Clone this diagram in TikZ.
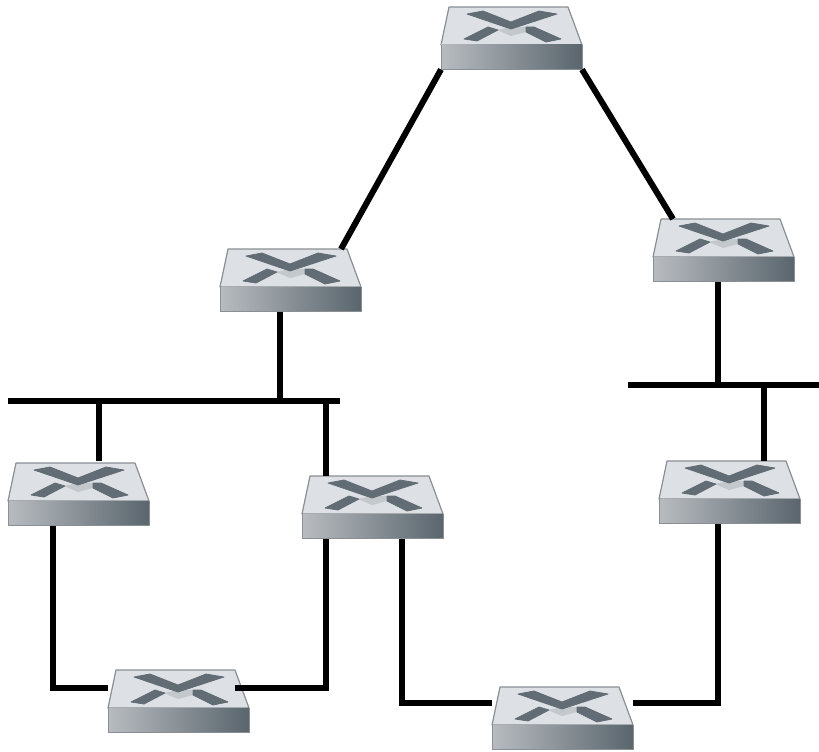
\documentclass[tikz,border=0pt]{standalone}
\definecolor{topface}{HTML}{DDE1E6}
\definecolor{xmark}{HTML}{626C74}
\definecolor{xlight}{HTML}{C3C8CD}
\definecolor{edgec}{HTML}{8A8F94}
\definecolor{frontl}{HTML}{B8BCC0}
\definecolor{frontm}{HTML}{8F979D}
\definecolor{frontr}{HTML}{5A656D}
\tikzset{
  x=1pt,y=-1pt,
  switchnode/.style={minimum width=141pt,minimum height=62.5pt,inner sep=0pt,outer sep=0pt,anchor=north west},
  topshape/.style={fill=topface,draw=edgec,line width=1.2pt,line join=round},
  frontshape/.style={left color=frontl,middle color=frontm,right color=frontr,draw=none},
  markshape/.style={fill=xmark,draw=xmark,line width=.8pt,line join=round},
  marklight/.style={fill=xlight,draw=none},
  wire/.style={line width=6pt,line cap=butt,line join=miter,black},
}
\newcommand{\switchat}[3]{%
  \node[switchnode] (#1) at (#2,#3) {};
  \begin{scope}[shift={(#2,#3)}]
    \path[topshape] (8,0) -- (127,0) -- (141,38) -- (0,38) -- cycle;
    \path[frontshape] (0,38) rectangle (141,62.5);
    \draw[edgec,line width=.8pt] (0,38) -- (0,62.5) -- (141,62.5) -- (141,38);
    \path[marklight] (56,23) -- (70,20) -- (85,20) -- (85,25) -- (70,29) -- cycle;
    \path[markshape] (26,7) -- (42,4) -- (70,15) -- (98,4) -- (116,7) -- (70,22) -- cycle;
    \path[markshape] (23,32) -- (36,34) -- (57,23) -- (47,20) -- cycle;
    \path[markshape] (85,20) -- (93,20) -- (120,32) -- (105,35) -- (85,25) -- cycle;
  \end{scope}}
\begin{document}
\begin{tikzpicture}
\useasboundingbox (0,0) rectangle (819,752);
\switchat{sTop}{441}{7}
\switchat{sLeft}{220}{249}
\switchat{sRight}{653}{219}
\switchat{sA}{8}{463}
\switchat{sB}{302}{476}
\switchat{sC}{659}{461}
\switchat{sD}{108}{670}
\switchat{sE}{492}{687}
\coordinate (busLa) at (8,400.5);
\coordinate (busLb) at (340,400.5);
\coordinate (busRa) at (628,385);
\coordinate (busRb) at (819,385);
\coordinate (cornerA) at (53,688);
\coordinate (cornerB) at (326,688);
\coordinate (cornerC) at (402,703);
\coordinate (cornerD) at (718,703);
\draw[wire] (sTop.south west) -- ([xshift=-20pt]sLeft.north east);
\draw[wire] (sTop.south east) -- ([xshift=20pt]sRight.north west);
\draw[wire] ([xshift=60pt]sLeft.south west) -- ([xshift=60pt]sLeft.south west |- busLa);
\draw[wire] (busLa) -- (busLb);
\draw[wire] (99,400.5) -- ([xshift=91pt,yshift=2pt]sA.north west);
\draw[wire] (326,400.5) -- ([xshift=24pt]sB.north west);
\draw[wire] ([xshift=65pt]sRight.south west) -- (718,385);
\draw[wire] (busRa) -- (busRb);
\draw[wire] (764,385) -- ([xshift=105pt]sC.north west);
\draw[wire] ([xshift=45pt]sA.south west) -- (cornerA) -- (cornerA -| sD.west);
\draw[wire] ([xshift=24pt]sB.south west) -- (cornerB) -- ([xshift=-14pt]cornerB -| sD.east);
\draw[wire] ([xshift=100pt]sB.south west) -- (cornerC) -- (cornerC -| sE.west);
\draw[wire] ([xshift=59pt]sC.south west) -- (cornerD) -- (cornerD -| sE.east);
\end{tikzpicture}
\end{document}
